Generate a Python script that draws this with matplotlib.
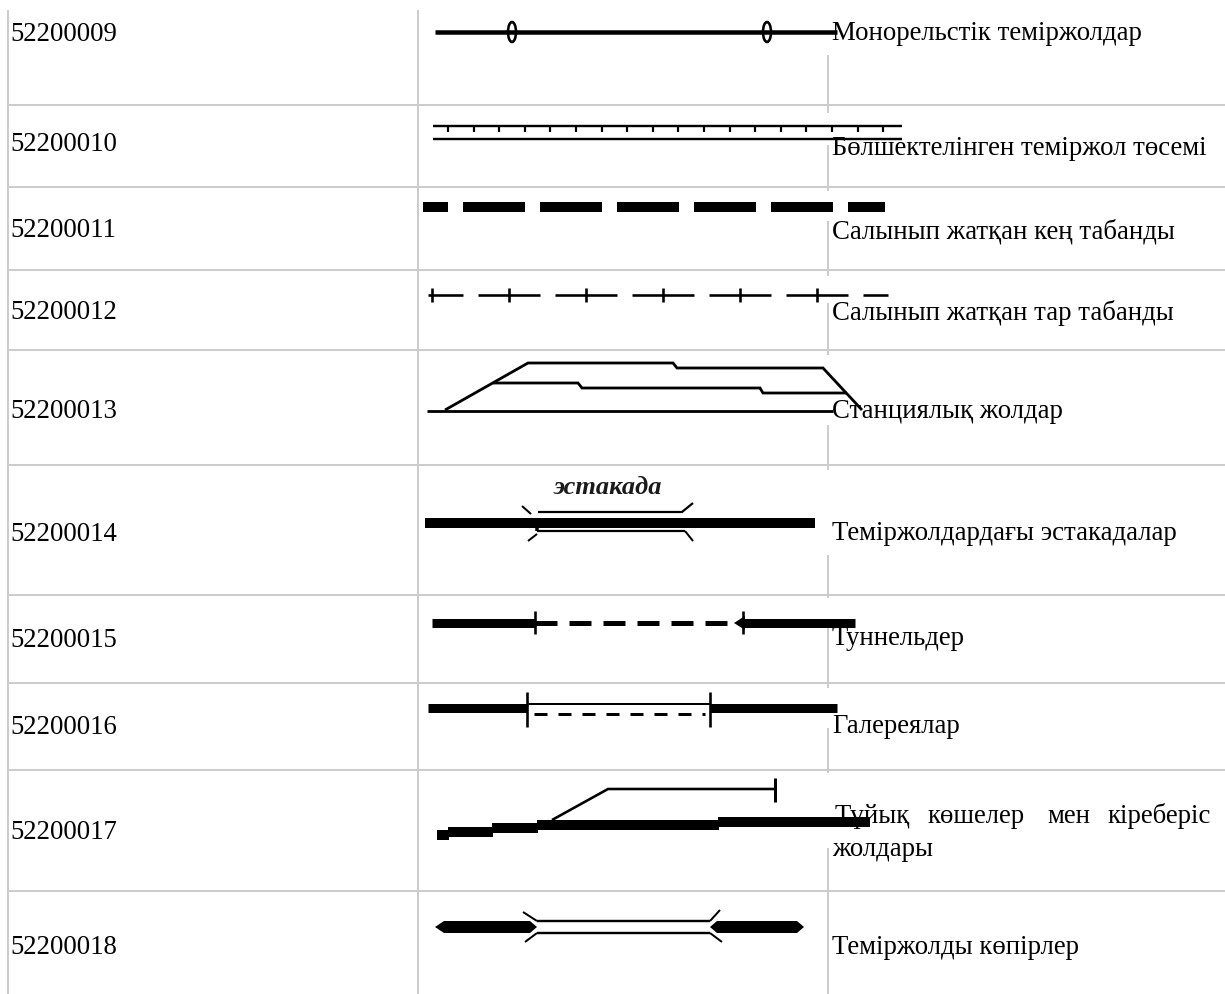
import numpy as np
import matplotlib
matplotlib.use("Agg")
import matplotlib.pyplot as plt
from matplotlib.patches import Ellipse, Polygon, Rectangle

# ---------------- data ----------------
codes = ["52200009", "52200010", "52200011", "52200012", "52200013",
         "52200014", "52200015", "52200016", "52200017", "52200018"]
descriptions = [
    "Монорельстік теміржолдар",
    "Бөлшектелінген теміржол төсемі",
    "Салынып жатқан кең табанды",
    "Салынып жатқан тар табанды",
    "Станциялық жолдар",
    "Теміржолдардағы эстакадалар",
    "Туннельдер",
    "Галереялар",
    ["Тұйық", "көшелер", "мен", "кіреберіс"],
    "Теміржолды көпірлер",
]
desc_row9_line2 = "жолдары"
estakada_label = "эстакада"

# ---------------- layout (pixels) ----------------
W, H = 1225, 994
DPI = 100
row_borders = [105, 187, 270, 350, 465, 595, 683, 770, 891]
col_lines = [8, 418, 828]
code_baselines = [41, 151, 237, 319, 418, 541, 647, 734, 839, 954]
desc_baselines = [40, 155, 238, 320, 418, 540, 645, 733, 823, 954]
row9_line2_baseline = 856
row9_word_x = [835, 928, 1047, 1107]
image_boxes = [(422, 840, 10, 55), (422, 905, 113, 145), (420, 890, 191, 221),
               (420, 895, 276, 303), (420, 870, 355, 425), (420, 835, 470, 555),
               (420, 860, 598, 626), (420, 845, 688, 728), (420, 875, 773, 848),
               (420, 810, 896, 955)]

GRID = "#cccccc"
SERIF = "Liberation Serif"
FS = 19.3


def px(w):
    return w * 72.0 / DPI


fig = plt.figure(figsize=(W / DPI, H / DPI), dpi=DPI)
ax = fig.add_axes([0, 0, 1, 1])
ax.set_xlim(0, W)
ax.set_ylim(H, 0)
ax.axis("off")


def line(xs, ys, lw, color="black", z=3, cap="butt"):
    ax.plot(xs, ys, color=color, lw=px(lw), solid_capstyle=cap,
            solid_joinstyle="miter", zorder=z)


def dashed(x0, x1, y, on, off, start, lw):
    s = start
    while s < x1:
        a, b = max(s, x0), min(s + on, x1)
        if b > a:
            line([a, b], [y, y], lw)
        s += on + off


# ---------------- grid ----------------
for x in col_lines:
    line([x, x], [10, H], 2, color=GRID, z=1)
for y in row_borders:
    line([col_lines[0], W], [y, y], 2, color=GRID, z=1)

# white image backgrounds (hide grid under symbol images)
for (x0, x1, y0, y1) in image_boxes:
    ax.add_patch(Rectangle((x0, y0), x1 - x0, y1 - y0, facecolor="white",
                           edgecolor="none", zorder=2))

# ---------------- symbols ----------------
# 1 monorail
line([435, 837], [32, 32], 4.5)
for cx in (512, 767):
    ax.add_patch(Ellipse((cx, 32), 8, 20, fill=False, lw=px(2.6),
                         edgecolor="black", zorder=3))

# 2 dismantled bed
line([433, 902], [126, 126], 2.4)
line([433, 902], [139, 139], 2.4)
for k in range(18):
    tx = 448 + k * 25.6
    line([tx, tx], [126, 132], 2.2)

# 3 broad gauge under construction
dashed(423, 885, 207, 62, 15, 386, 10)

# 4 narrow gauge under construction
dashed(428, 888, 295, 62, 15, 401, 2.6)
line([432, 432], [288, 302], 2.6)
for k in range(6):
    tx = 478 + k * 77 + 31
    if tx < 840:
        line([tx, tx], [288, 302], 2.6)

# 5 station tracks
line([427, 833], [411, 411], 2.8)
line([445, 528, 673, 677, 823, 862], [410, 363, 363, 368, 368, 410], 2.8)
line([493, 578, 582, 760, 763, 847], [383, 383, 388, 388, 393, 393], 2.8)

# 6 estakada
line([425, 815], [523, 523], 10)
line([538, 682, 693], [512, 512, 503], 2.2)
line([537, 685], [531, 531], 2.2)
line([537, 537], [521, 531], 3.5)
line([522, 531], [506, 514], 2)
line([528, 537], [541, 534], 2)
line([685, 693], [531, 541], 2)
ax.text(608, 487, estakada_label, ha="center", va="center",
        fontsize=19, fontweight="bold", fontstyle="italic",
        family="Liberation Serif", color="#1a1a1a", zorder=3)

# 7 tunnels
line([432, 535], [623, 623], 9)
line([535, 535], [611, 634], 2.6)
dashed(535, 731, 623, 22, 12, 535, 5)
ax.add_patch(Polygon([(734, 623), (745, 616), (745, 630)], closed=True,
                     facecolor="black", edgecolor="none", zorder=3))
line([743, 743], [611, 634], 2.6)
line([743, 855], [623, 623], 9)

# 8 galleries
line([428, 527], [708, 708], 9)
line([710, 837], [708, 708], 9)
line([527, 527], [692, 727], 2.6)
line([710, 710], [692, 727], 2.6)
line([527, 710], [704, 704], 2)
dashed(534, 705, 714, 13, 11, 534, 3)

# 9 dead-end tracks
for (x0, x1, y) in [(437, 449, 835), (448, 493, 832), (492, 538, 828),
                    (537, 719, 825), (718, 870, 822)]:
    line([x0, x1], [y, y], 10)
line([552, 608, 775], [820, 789, 789], 2.6)
line([775, 775], [778, 802], 3)

# 10 bridges
for pts in ([(435, 927), (444, 921), (530, 921), (537, 927), (530, 933), (444, 933)],
            [(710, 927), (717, 921), (797, 921), (804, 927), (797, 933), (717, 933)]):
    ax.add_patch(Polygon(pts, closed=True, facecolor="black",
                         edgecolor="none", zorder=3))
line([537, 710], [921, 921], 2.4)
line([537, 710], [933, 933], 2.4)
line([523, 537], [912, 921], 2)
line([525, 537], [942, 933], 2)
line([710, 720], [921, 910], 2)
line([710, 722], [933, 942], 2)

# ---------------- text ----------------
for code, yb in zip(codes, code_baselines):
    ax.text(10, yb, code, ha="left", va="baseline", fontsize=FS,
            family=SERIF, zorder=4)

for i, (d, yb) in enumerate(zip(descriptions, desc_baselines)):
    if isinstance(d, list):
        for w, xw in zip(d, row9_word_x):
            ax.text(xw, yb, w, ha="left", va="baseline", fontsize=FS,
                    family=SERIF, zorder=4)
    else:
        ax.text(832, yb, d, ha="left", va="baseline", fontsize=FS,
                family=SERIF, zorder=4)
ax.text(832, row9_line2_baseline, desc_row9_line2, ha="left", va="baseline",
        fontsize=FS, family=SERIF, zorder=4)

fig.savefig("out.png", dpi=DPI, facecolor="white")
